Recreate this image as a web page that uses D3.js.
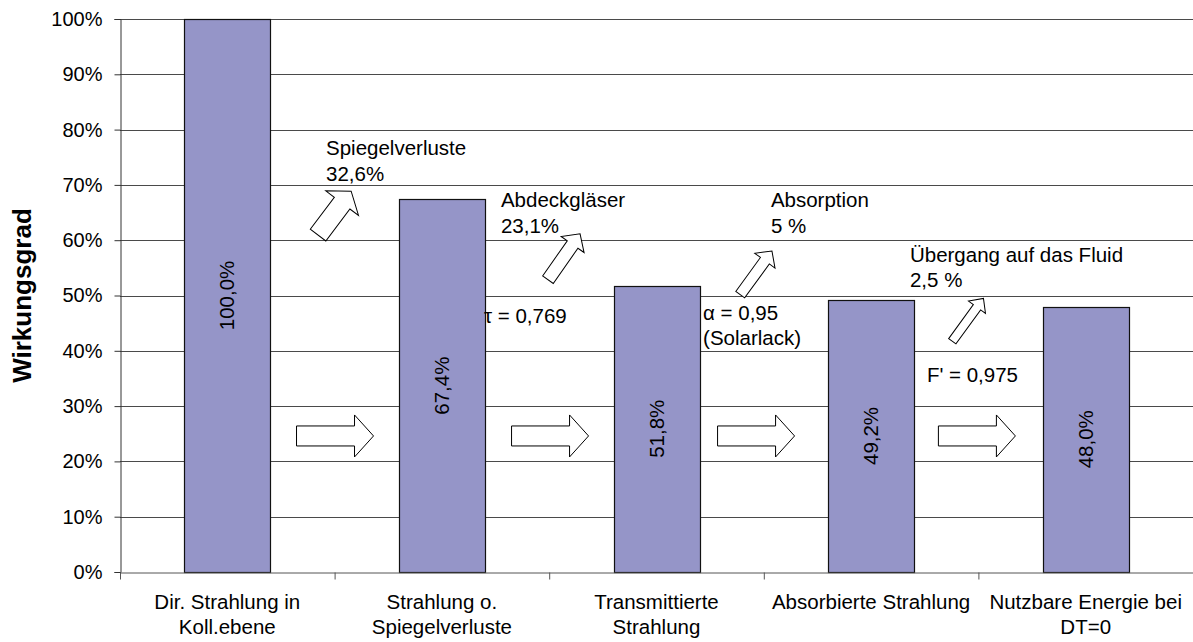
<!DOCTYPE html>
<html>
<head>
<meta charset="utf-8">
<script src="https://cdn.jsdelivr.net/npm/d3@7"></script>
<style>
  html, body { margin: 0; padding: 0; background: #fff; }
  svg { display: block; font-family: "Liberation Sans", Arial, sans-serif; }
</style>
</head>
<body>
<svg id="chart" width="1193" height="642"></svg>
<script>
// ---- data ----
const categories = [
  "Dir. Strahlung in\nKoll.ebene",
  "Strahlung o.\nSpiegelverluste",
  "Transmittierte\nStrahlung",
  "Absorbierte Strahlung",
  "Nutzbare Energie bei\nDT=0"
];
const values = [100.0, 67.4, 51.8, 49.2, 48.0];
const yTicks = [0, 10, 20, 30, 40, 50, 60, 70, 80, 90, 100];
const yTitle = "Wirkungsgrad";
const lossTexts = [
  ["Spiegelverluste", "32,6%"],
  ["Abdeckgläser", "23,1%"],
  ["Absorption", "5 %"],
  ["Übergang auf das Fluid", "2,5 %"]
];
const factorTexts = [
  ["τ = 0,769"],
  ["α = 0,95", "(Solarlack)"],
  ["F' = 0,975"]
];

// ---- layout (positions in category units / percent) ----
const lossTextPos = [[0.96, 75.4], [1.775, 66.0], [3.033, 66.0], [3.681, 56.1]];
const factorTextPos = [[1.696, 45.0], [2.717, 45.6], [3.760, 34.4]];
const rightArrowPos = [[1.002, 24.6], [2.004, 24.6], [2.964, 24.6], [3.993, 24.6]];
const lossArrowPos = [[1.0, 64.9], [2.069, 57.0], [2.964, 54.1], [3.951, 45.6]];
const lossArrowDims = [ // length, head width, shaft width, head length, angle
  [55, 41, 19.5, 15, -53], [56, 28, 13, 13, -55], [54, 25, 11, 12, -54], [53, 21, 9, 11, -54]
];

const svg = d3.select("#chart");
const W = 1193, H = 642;
const m = { left: 120, right: 0, top: 19, bottom: 70 };
const plotBottom = H - m.bottom; // 572

const x = d3.scaleBand().domain(categories).range([m.left, W - m.right])
  .paddingInner(0.6).paddingOuter(0.3);
const xu = d3.scaleLinear().domain([0, categories.length]).range([m.left, W - m.right]);
const y = d3.scaleLinear().domain([0, 100]).range([plotBottom, m.top]);

svg.append("rect").attr("width", W).attr("height", H).attr("fill", "#fff");

// gridlines
svg.append("g").selectAll("line").data(yTicks.filter(d => d > 0)).join("line")
  .attr("x1", m.left).attr("x2", W - m.right)
  .attr("y1", d => Math.round(y(d)) + 0.5).attr("y2", d => Math.round(y(d)) + 0.5)
  .attr("stroke", "#4a4a4a").attr("stroke-width", 1);

// bars
svg.append("g").selectAll("rect").data(values).join("rect")
  .attr("x", (d, i) => Math.round(x(categories[i])) + 0.5)
  .attr("y", d => Math.round(y(d)) + 0.5)
  .attr("width", Math.round(x.bandwidth()))
  .attr("height", d => Math.round(y(0)) - Math.round(y(d)))
  .attr("fill", "#9595C8").attr("stroke", "#111").attr("stroke-width", 1.2);

// bar labels
const fmt = d => d3.format(".1f")(d).replace(".", ",") + "%";
svg.append("g").selectAll("text").data(values).join("text")
  .attr("transform", (d, i) => `translate(${x(categories[i]) + x.bandwidth() / 2},${(y(d) + y(0)) / 2}) rotate(-90)`)
  .attr("text-anchor", "middle").attr("dy", "0.35em")
  .attr("font-size", 20.5).attr("fill", "#000")
  .text(fmt);

// y axis
const yAxis = svg.append("g").attr("transform", `translate(${m.left + 0.5},0)`)
  .call(d3.axisLeft(y).tickValues(yTicks).tickFormat(d => d + "%").tickSize(6).tickPadding(12));
yAxis.select(".domain").attr("stroke", "#333");
yAxis.selectAll(".tick line").attr("stroke", "#333");
yAxis.selectAll(".tick text").attr("font-size", 20).attr("fill", "#000")
  .attr("font-family", "Liberation Sans, Arial, sans-serif");

// x axis boundary ticks
const xAxis = svg.append("g").attr("transform", `translate(0,${Math.round(plotBottom) + 0.5})`)
  .call(d3.axisBottom(xu).tickValues(d3.range(0, categories.length + 1)).tickFormat("").tickSize(7).tickSizeOuter(0));
xAxis.select(".domain").attr("stroke", "#555");
xAxis.selectAll(".tick line").attr("stroke", "#555");

// category labels
const catG = svg.append("g").selectAll("text").data(categories).join("text")
  .attr("x", d => x(d) + x.bandwidth() / 2)
  .attr("y", 609)
  .attr("text-anchor", "middle").attr("font-size", 20.5).attr("fill", "#000");
catG.selectAll("tspan").data(d => d.split("\n")).join("tspan")
  .attr("x", function () { return d3.select(this.parentNode).attr("x"); })
  .attr("dy", (d, i) => i === 0 ? 0 : 25)
  .text(d => d);

// y title
svg.append("text")
  .attr("transform", `translate(${31},${y(50) - 0})rotate(-90)`)
  .attr("text-anchor", "middle").attr("font-size", 26).attr("font-weight", "bold")
  .attr("fill", "#000").text(yTitle);

// block arrow path (pointing right, centred)
function arrowPath(L, Hh, s, h) {
  const a = -L / 2, b = L / 2;
  return `M${a},${-s / 2}L${b - h},${-s / 2}L${b - h},${-Hh / 2}L${b},0L${b - h},${Hh / 2}L${b - h},${s / 2}L${a},${s / 2}Z`;
}

// right arrows
svg.append("g").selectAll("path").data(rightArrowPos).join("path")
  .attr("transform", d => `translate(${xu(d[0])},${y(d[1])})`)
  .attr("d", arrowPath(77, 42, 20, 19))
  .attr("fill", "#fff").attr("stroke", "#000").attr("stroke-width", 1);

// loss arrows (diagonal)
svg.append("g").selectAll("path").data(lossArrowPos).join("path")
  .attr("transform", (d, i) => `translate(${xu(d[0])},${y(d[1])}) rotate(${lossArrowDims[i][4]})`)
  .attr("d", (d, i) => arrowPath(...lossArrowDims[i].slice(0, 4)))
  .attr("fill", "#fff").attr("stroke", "#000").attr("stroke-width", 1);

// annotation texts
function addTexts(texts, pos) {
  const g = svg.append("g").selectAll("text").data(texts).join("text")
    .attr("x", (d, i) => xu(pos[i][0]))
    .attr("y", (d, i) => y(pos[i][1]))
    .attr("font-size", 20.5).attr("fill", "#000");
  g.selectAll("tspan").data(d => d).join("tspan")
    .attr("x", function () { return d3.select(this.parentNode).attr("x"); })
    .attr("dy", (d, i) => i === 0 ? 0 : 25.5)
    .text(d => d);
}
addTexts(lossTexts, lossTextPos);
addTexts(factorTexts, factorTextPos);
</script>
</body>
</html>
